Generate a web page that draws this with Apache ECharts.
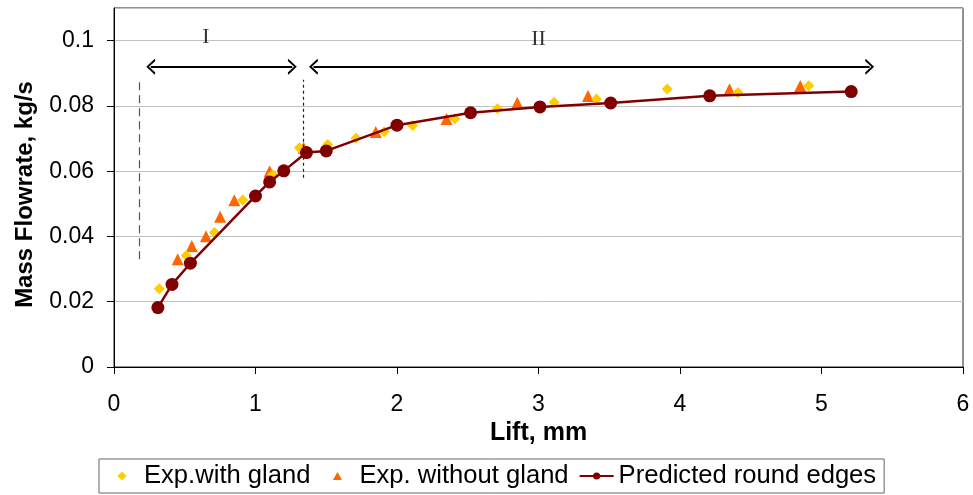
<!DOCTYPE html>
<html>
<head>
<meta charset="utf-8">
<script src="https://cdn.jsdelivr.net/npm/echarts@6/dist/echarts.min.js"></script>
<style>
  html, body { margin: 0; padding: 0; background: #fff; }
  #chart { width: 973px; height: 495px; }
</style>
</head>
<body>
<div id="chart"></div>
<script>
// Mass flowrate vs lift

const glandLift = [0.32, 0.51, 0.71, 0.91, 1.12, 1.31, 1.51, 1.71, 1.91, 2.11, 2.41, 2.71, 3.11, 3.41, 3.91, 4.41, 4.91];
const glandFlow = [0.0240, 0.0342, 0.0412, 0.0512, 0.0590, 0.0672, 0.0682, 0.0701, 0.0721, 0.0740, 0.0761, 0.0791, 0.0811, 0.0821, 0.0852, 0.0841, 0.0862];

const noGlandLift = [0.45, 0.55, 0.65, 0.75, 0.85, 1.1, 1.34, 1.85, 2.35, 2.85, 3.35, 4.35, 4.85];
const noGlandFlow = [0.0330, 0.0371, 0.0401, 0.0460, 0.0511, 0.0600, 0.0672, 0.0720, 0.0760, 0.0810, 0.0830, 0.0851, 0.0861];

const predLift = [0.31, 0.41, 0.54, 1.0, 1.1, 1.2, 1.36, 1.5, 2.0, 2.52, 3.01, 3.51, 4.21, 5.21];
const predFlow = [0.0182, 0.0253, 0.0318, 0.0524, 0.0567, 0.0601, 0.0657, 0.0662, 0.0741, 0.0779, 0.0797, 0.0809, 0.0831, 0.0844];

// region markers: dashed boundaries, arrows and roman labels
const boundaryLift = [0.18, 1.34];
const boundaryFrom = [0.033, 0.058];
const boundaryTo = 0.088;
const arrowFrom = [0.26, 1.41];
const arrowTo = [1.26, 5.34];
const arrowFlow = 0.092;
const regionNames = ['I', 'II'];
const regionLift = [0.65, 3.0];
const regionFlow = [0.1009, 0.1003];

const zip = (xs, ys) => xs.map((x, i) => [x, ys[i]]);

const chart = echarts.init(document.getElementById('chart'));

const font = 'Liberation Sans, Arial, sans-serif';
const chevron = 'path://M0,10 L5,0 L10,10 L8.6,10.6 L5,3.2 L1.4,10.6 Z';
// legend icons: tiny specks at both ends widen the path box to the item width,
// so the marker sits small and centred like the original key
const speck = 'M0,4.5 L0.01,4.5 L0.01,4.51 Z M33.99,4.5 L34,4.5 L34,4.51 Z';
const diamondIcon = 'path://' + speck + ' M12.5,4.5 L17,0 L21.5,4.5 L17,9 Z';
const triangleIcon = 'path://' + speck + ' M17,0.5 L21.5,8.5 L12.5,8.5 Z';

const option = {
    animation: false,
    backgroundColor: '#fff',
    grid: {
        left: 114, right: 10, top: 8, bottom: 128,
        show: true, borderColor: '#222', borderWidth: 1,
    },
    legend: {
        left: 99, top: 459,
        padding: [4, 8, 4, 6],
        borderColor: '#666', borderWidth: 1,
        itemGap: 10,
        itemWidth: 34, itemHeight: 9,
        textStyle: { fontFamily: font, fontSize: 25.6, color: '#000' },
        data: [
            { name: 'Exp.with gland', icon: diamondIcon },
            { name: 'Exp. without gland', icon: triangleIcon },
            'Predicted round edges',
        ],
    },
    xAxis: {
        type: 'value', min: 0, max: 6, interval: 1,
        name: 'Lift, mm', nameLocation: 'middle', nameGap: 52,
        nameTextStyle: { fontFamily: font, fontSize: 25, fontWeight: 'bold', color: '#000' },
        axisLine: { lineStyle: { color: '#000', width: 1 } },
        axisTick: { show: true, length: 7, lineStyle: { color: '#000' } },
        axisLabel: { fontFamily: font, fontSize: 23, color: '#000', margin: 26 },
        splitLine: { show: false },
    },
    yAxis: {
        type: 'value', min: 0, max: 0.11, interval: 0.02,
        name: 'Mass Flowrate, kg/s', nameLocation: 'middle', nameGap: 77,
        nameTextStyle: { fontFamily: font, fontSize: 24, fontWeight: 'bold', color: '#000', padding: [0, 14, 0, 0] },
        axisLine: { lineStyle: { color: '#000', width: 1 } },
        axisTick: { show: true, length: 7, lineStyle: { color: '#000' } },
        axisLabel: { fontFamily: font, fontSize: 23, color: '#000', margin: 20, showMaxLabel: false },
        splitLine: { lineStyle: { color: '#c0c0c0', width: 1 } },
    },
    series: [
        {
            name: 'Exp.with gland',
            type: 'scatter',
            symbol: 'diamond',
            symbolSize: 11,
            itemStyle: { color: '#ffcc00', opacity: 1 },
            data: zip(glandLift, glandFlow),
            z: 3,
        },
        {
            name: 'Exp. without gland',
            type: 'scatter',
            symbol: 'triangle',
            symbolSize: 12,
            itemStyle: { color: '#ff6600', opacity: 1 },
            data: zip(noGlandLift, noGlandFlow),
            z: 2,
        },
        {
            name: 'Predicted round edges',
            type: 'line',
            symbol: 'circle',
            symbolSize: 13,
            itemStyle: { color: '#800000' },
            lineStyle: { color: '#800000', width: 2.5 },
            data: zip(predLift, predFlow),
            z: 4,
        },
        {
            name: 'annot',
            type: 'scatter',
            symbolSize: 0,
            silent: true,
            data: regionNames.map((n, i) => ({ name: n, value: [regionLift[i], regionFlow[i]] })),
            label: {
                show: true, position: 'inside', formatter: '{b}',
                fontFamily: 'Liberation Serif, Times New Roman, serif', fontSize: 22, color: '#000',
            },
            markLine: {
                silent: true,
                label: { show: false },
                data: [
                    [
                        { coord: [boundaryLift[0], boundaryFrom[0]], symbol: 'none', lineStyle: { type: [8, 5], color: '#555', width: 1.2 } },
                        { coord: [boundaryLift[0], boundaryTo], symbol: 'none' },
                    ],
                    [
                        { coord: [boundaryLift[1], boundaryFrom[1]], symbol: 'none', lineStyle: { type: [3, 3], color: '#222', width: 1.2 } },
                        { coord: [boundaryLift[1], boundaryTo], symbol: 'none' },
                    ],
                    ...arrowFrom.map((a, i) => [
                        { coord: [a, arrowFlow], symbol: chevron, symbolSize: [16, 9], lineStyle: { type: 'solid', color: '#000', width: 2 } },
                        { coord: [arrowTo[i], arrowFlow], symbol: chevron, symbolSize: [16, 9] },
                    ]),
                ],
            },
        },
    ],
};

chart.setOption(option);
</script>
</body>
</html>
